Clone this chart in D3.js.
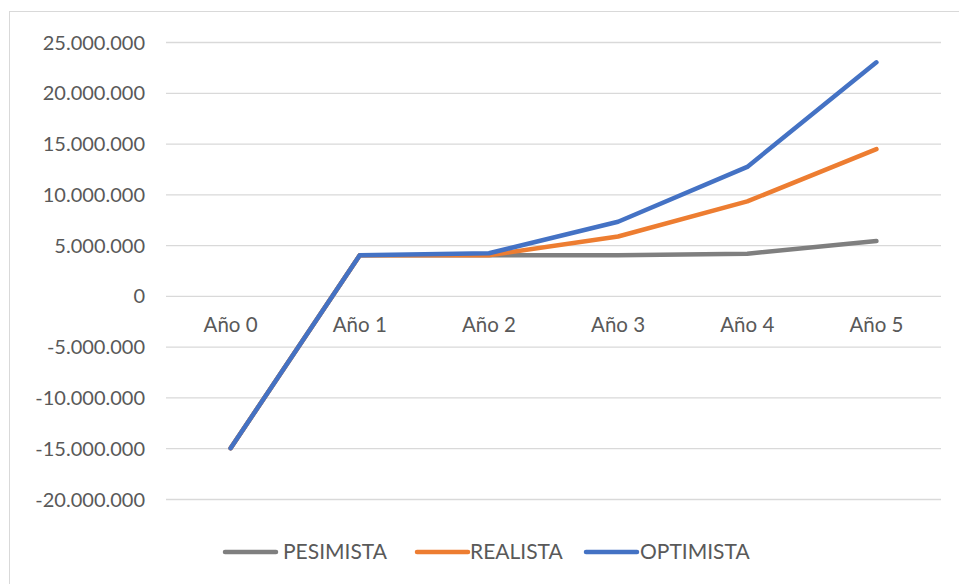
<!DOCTYPE html>
<html>
<head>
<meta charset="utf-8">
<script src="https://cdn.jsdelivr.net/npm/d3@7"></script>
<style>
  html, body { margin: 0; padding: 0; background: #fff; }
  svg { display: block; }
  text { font-family: Lato, "Open Sans", sans-serif; fill: #595959; }
</style>
</head>
<body>
<svg id="chart" width="959" height="584"></svg>
<script>
// Scenario cash flows per year
const categories = ["Año 0", "Año 1", "Año 2", "Año 3", "Año 4", "Año 5"];
const pesimista = [-15000000, 4000000, 4000000, 4000000, 4150000, 5400000];
const realista  = [-15000000, 4000000, 4000000, 5850000, 9300000, 14450000];
const optimista = [-15000000, 4000000, 4200000, 7300000, 12700000, 23000000];
const seriesNames = ["PESIMISTA", "REALISTA", "OPTIMISTA"];
const seriesColors = ["#7f7f7f", "#ed7d31", "#4472c4"];
const yTicks = [-20000000, -15000000, -10000000, -5000000, 0, 5000000, 10000000, 15000000, 20000000, 25000000];

const series = [pesimista, realista, optimista];

const svg = d3.select("#chart");

// chart area frame
svg.append("rect")
  .attr("x", 9.5).attr("y", 11.5)
  .attr("width", 960).attr("height", 600)
  .attr("fill", "#fff").attr("stroke", "#d9d9d9").attr("stroke-width", 1);

const plot = { left: 166, right: 941, top: 42, bottom: 499 };

const x = d3.scaleBand().domain(categories).range([plot.left, plot.right]);
const y = d3.scaleLinear().domain([-20000000, 25000000]).range([plot.bottom, plot.top]);

const fmt = v => {
  if (v === 0) return "0";
  const s = d3.format(",")(Math.abs(v)).replace(/,/g, ".");
  return (v < 0 ? "-" : "") + s;
};

// horizontal gridlines + y labels
const yAxis = d3.axisLeft(y).tickValues(yTicks).tickFormat(fmt)
  .tickSize(-(plot.right - plot.left)).tickPadding(21);
const gy = svg.append("g").attr("transform", `translate(${plot.left},0)`).call(yAxis);
gy.select(".domain").remove();
gy.selectAll(".tick line").attr("stroke", "#d9d9d9").attr("stroke-width", 1.3);
gy.selectAll(".tick text").style("font-size", "20px").attr("fill", "#595959").attr("dy", "0.35em");

// category labels under the zero line
const xAxis = d3.axisBottom(x).tickSize(0).tickPadding(22);
const gx = svg.append("g").attr("transform", `translate(0,${y(0)})`).call(xAxis);
gx.select(".domain").remove();
gx.selectAll(".tick text").style("font-size", "20.5px").attr("fill", "#595959").attr("dy", "0.71em");

// series lines
const line = d3.line()
  .x((d, i) => x(categories[i]) + x.bandwidth() / 2)
  .y(d => y(d));

series.forEach((vals, i) => {
  svg.append("path")
    .datum(vals)
    .attr("d", line)
    .attr("fill", "none")
    .attr("stroke", seriesColors[i])
    .attr("stroke-width", 4.5)
    .attr("stroke-linejoin", "round")
    .attr("stroke-linecap", "round");
});

// legend
const legendItems = [
  { lx: 223, tx: 283 },
  { lx: 415, tx: 470 },
  { lx: 584, tx: 640 }
];
const legendY = 552;
const lg = svg.append("g");
seriesNames.forEach((name, i) => {
  const it = legendItems[i];
  lg.append("line")
    .attr("x1", it.lx + 2).attr("x2", it.lx + 53)
    .attr("y1", legendY).attr("y2", legendY)
    .attr("stroke", seriesColors[i]).attr("stroke-width", 4.5)
    .attr("stroke-linecap", "round");
  lg.append("text")
    .attr("x", it.tx).attr("y", legendY)
    .attr("dy", "0.35em")
    .style("font-size", "21px")
    .text(name);
});
</script>
</body>
</html>
